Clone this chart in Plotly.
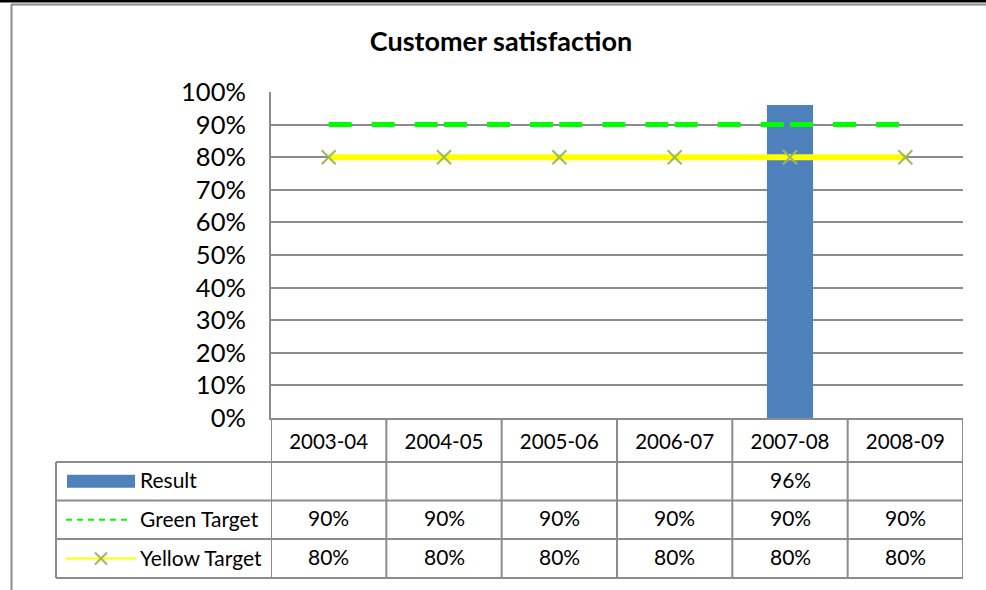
import plotly.graph_objects as go

# ---- data ----
categories = ["2003-04", "2004-05", "2005-06", "2006-07", "2007-08", "2008-09"]
result = [None, None, None, None, 0.96, None]
green_target = [0.90, 0.90, 0.90, 0.90, 0.90, 0.90]
yellow_target = [0.80, 0.80, 0.80, 0.80, 0.80, 0.80]
series_names = ["Result", "Green Target", "Yellow Target"]
title_text = "Customer satisfaction"

W, H = 986, 590
FONT = "Lato"
GRID = "#8C8C8C"
TFS = 21  # table font size


def px(x):
    return x / W


def py(y):
    return 1 - y / H


PLOT_L, PLOT_R, PLOT_T, PLOT_B = 271, 963, 92, 418
ROWS = [462, 500.5, 539, 578]  # bottom edges of table rows (header, result, green, yellow)
TABLE_L = 56

fig = go.Figure()

fig.add_trace(go.Bar(x=categories, y=result, marker=dict(color="#4F81BD", line=dict(width=0)),
                     width=0.4, showlegend=False, hoverinfo="skip"))

# green dashed line, dash pattern restarting at each segment (like Excel)
for i in range(len(categories) - 1):
    fig.add_trace(go.Scatter(x=categories[i:i + 2], y=green_target[i:i + 2], mode="lines",
                             line=dict(color="#00FF00", width=5, dash="23px,20px"),
                             showlegend=False, hoverinfo="skip"))

fig.add_trace(go.Scatter(x=categories, y=yellow_target, mode="lines+markers",
                         line=dict(color="#FFFF00", width=6),
                         marker=dict(symbol="x-thin", size=14, color="#9BBB59",
                                     line=dict(color="#9BBB59", width=2)),
                         showlegend=False, hoverinfo="skip"))

shapes = []
# outer frame
shapes.append(dict(type="line", xref="paper", yref="paper", x0=0, x1=1, y0=py(1), y1=py(1),
                   line=dict(color="black", width=3)))
shapes.append(dict(type="line", xref="paper", yref="paper", x0=px(11), x1=1, y0=py(4.5), y1=py(4.5),
                   line=dict(color="#8C8C8C", width=2)))
shapes.append(dict(type="line", xref="paper", yref="paper", x0=px(11.5), x1=px(11.5), y0=py(4), y1=0,
                   line=dict(color="#8C8C8C", width=2)))

# table horizontal lines
for r in ROWS:
    shapes.append(dict(type="line", xref="paper", yref="paper", x0=px(TABLE_L), x1=px(PLOT_R),
                       y0=py(r), y1=py(r), line=dict(color=GRID, width=2)))
# table vertical lines
shapes.append(dict(type="line", xref="paper", yref="paper", x0=px(TABLE_L), x1=px(TABLE_L),
                   y0=py(ROWS[0]), y1=py(ROWS[-1]), line=dict(color=GRID, width=2)))
for i in range(len(categories) + 1):
    shapes.append(dict(type="line", xref="x", yref="paper", x0=i - 0.5, x1=i - 0.5,
                       y0=py(PLOT_B), y1=py(ROWS[-1]), line=dict(color=GRID, width=2)))

# legend keys in table
row_mid = [(ROWS[k] + ROWS[k + 1]) / 2 for k in range(3)]
shapes.append(dict(type="rect", xref="paper", yref="paper", x0=px(67), x1=px(135),
                   y0=py(row_mid[0] - 6.5), y1=py(row_mid[0] + 6.5),
                   fillcolor="#4F81BD", line=dict(width=0)))
shapes.append(dict(type="line", xref="paper", yref="paper", x0=px(66), x1=px(132),
                   y0=py(row_mid[1]), y1=py(row_mid[1]),
                   line=dict(color="#00FF00", width=2, dash="6px,5px")))
shapes.append(dict(type="line", xref="paper", yref="paper", x0=px(66), x1=px(136),
                   y0=py(row_mid[2]), y1=py(row_mid[2]),
                   line=dict(color="#FFFF00", width=2)))
cx, cy = 101, row_mid[2]
for dy in (-6, 6):
    shapes.append(dict(type="line", xref="paper", yref="paper", x0=px(cx - 6), x1=px(cx + 6),
                       y0=py(cy - dy), y1=py(cy + dy), line=dict(color="#9BBB59", width=2)))

annotations = []
for k, name in enumerate(series_names):
    annotations.append(dict(text=name, xref="paper", yref="paper", x=px(138), y=py(row_mid[k] - 1.5),
                            xanchor="left", yanchor="middle", showarrow=False,
                            font=dict(family=FONT, size=TFS, color="black")))
for k, series in enumerate([result, green_target, yellow_target]):
    for c, v in zip(categories, series):
        if v is None:
            continue
        annotations.append(dict(text=f"{v:.0%}", xref="x", yref="paper", x=c, y=py(row_mid[k] - 2),
                                xanchor="center", yanchor="middle", showarrow=False,
                                font=dict(family=FONT, size=TFS, color="black")))

fig.update_layout(
    width=W, height=H,
    margin=dict(l=0, r=0, t=0, b=0, pad=0, autoexpand=False),
    paper_bgcolor="white", plot_bgcolor="white",
    font=dict(family=FONT, color="black"),
    title=dict(text=title_text, x=px(501), y=py(42), xanchor="center", yanchor="middle",
               font=dict(family=FONT, size=27, color="black", weight="bold"), automargin=False),
    xaxis=dict(domain=[px(PLOT_L), px(PLOT_R)], type="category", range=[-0.5, 5.5],
               showgrid=False, showline=True, linecolor=GRID, linewidth=2,
               ticks="", tickfont=dict(family=FONT, size=20.5, color="black"),
               ticklabelstandoff=4, automargin=False, fixedrange=True),
    yaxis=dict(domain=[py(PLOT_B), py(PLOT_T)], range=[0, 1], dtick=0.1, tickformat=".0%",
               showgrid=True, gridcolor=GRID, gridwidth=2, zeroline=False,
               showline=True, linecolor=GRID, linewidth=2,
               ticks="", tickfont=dict(family=FONT, size=25.5, color="black"),
               ticklabelstandoff=18, automargin=False, fixedrange=True),
    shapes=shapes, annotations=annotations,
    bargap=0.6,
)

fig.write_html("out.html", config={"displayModeBar": False},
               post_script="document.body.style.margin='0';document.body.style.overflow='hidden';")
